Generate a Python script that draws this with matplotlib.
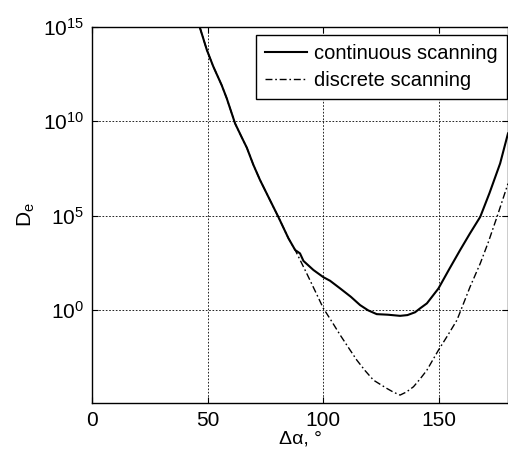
import matplotlib
matplotlib.use('Agg')
import matplotlib.pyplot as plt
import numpy as np

plt.rcParams['font.family'] = ['Liberation Sans', 'DejaVu Sans']
plt.rcParams['mathtext.fontset'] = 'custom'
plt.rcParams['mathtext.rm'] = 'Liberation Sans'
plt.rcParams['mathtext.it'] = 'Liberation Sans:italic'

# ── data (x in degrees, y as log10) ──
cont_x = [46.6, 49.7, 52.5, 56.1, 58.3, 61.9, 64.8, 67.0, 69.8, 72.7, 76.5, 80.6,
          85.0, 87.9, 90.0, 91.5, 95.8, 100.1, 103.0, 107.4, 112.0, 116.0, 119.5,
          123.2, 128.0, 133.3, 136.5, 139.8, 142.0, 144.9, 149.9, 154.5, 159.3,
          163.5, 168.0, 172.0, 176.6, 180.0]
cont_log = [15.0, 13.78, 12.9, 11.92, 11.22, 9.89, 9.15, 8.6, 7.70, 6.89, 5.95, 4.94,
            3.80, 3.18, 3.0, 2.6, 2.12, 1.74, 1.55, 1.14, 0.70, 0.26, -0.02,
            -0.22, -0.25, -0.31, -0.27, -0.12, 0.09, 0.35, 1.14, 2.15, 3.18,
            4.05, 4.94, 6.20, 7.77, 9.36]

disc_x = [46.6, 49.7, 52.5, 56.1, 58.3, 61.9, 64.8, 67.0, 69.8, 72.7, 76.5, 80.6,
          85.0, 87.9, 92.9, 96.5, 100.1, 103.8, 107.4, 111.0, 114.6, 118.2, 121.8,
          127.6, 130.5, 133.3, 136.0, 139.1, 142.0, 144.9, 149.9, 153.9, 157.9,
          163.6, 168.0, 171.5, 175.2, 180.0]
disc_log = [15.0, 13.78, 12.9, 11.92, 11.22, 9.89, 9.15, 8.6, 7.70, 6.89, 5.95, 4.94,
            3.80, 3.18, 1.94, 1.02, 0.09, -0.62, -1.33, -2.00, -2.66, -3.22, -3.72,
            -4.16, -4.36, -4.51, -4.35, -4.07, -3.65, -3.19, -2.13, -1.35, -0.54,
            1.23, 2.47, 3.60, 4.92, 6.70]

xticks = [0, 50, 100, 150]
yticks = [1e0, 1e5, 1e10, 1e15]

fig = plt.figure(figsize=(5.08, 4.50), dpi=100)
ax = fig.add_axes([92 / 508, 47 / 450, 416 / 508, 376 / 450])

ax.semilogy(cont_x, 10.0 ** np.array(cont_log), color='black', lw=1.5,
            label='continuous scanning')
ax.semilogy(disc_x, 10.0 ** np.array(disc_log), color='black', lw=1.0,
            linestyle=(0, (5, 2, 1.2, 2)), label='discrete scanning')

ax.set_xlim(0, 180)
ax.set_ylim(10 ** -4.93, 1e15)
ax.set_xticks(xticks)
ax.set_yticks(yticks)
ax.yaxis.set_minor_locator(matplotlib.ticker.NullLocator())
ax.tick_params(direction='in', top=True, right=True, labelsize=15, length=4, pad=6)
ax.grid(True, color='black', linestyle=(0, (2, 2)), linewidth=0.6)
for s in ax.spines.values():
    s.set_linewidth(1.0)

ax.set_xlabel('Δα, °', fontsize=14, labelpad=0)
ax.set_ylabel(r'D$_\mathregular{e}$', fontsize=15, labelpad=4)

leg = ax.legend(loc='upper right', bbox_to_anchor=(1 - 1.5 / 416, 1 - 8 / 376),
                fontsize=14.5, frameon=True, fancybox=False,
                edgecolor='black', framealpha=1.0, borderaxespad=0,
                handlelength=2.05, handletextpad=0.35, borderpad=0.45, labelspacing=0.38)
leg.get_frame().set_linewidth(1.0)

fig.savefig('out.png', dpi=100)
